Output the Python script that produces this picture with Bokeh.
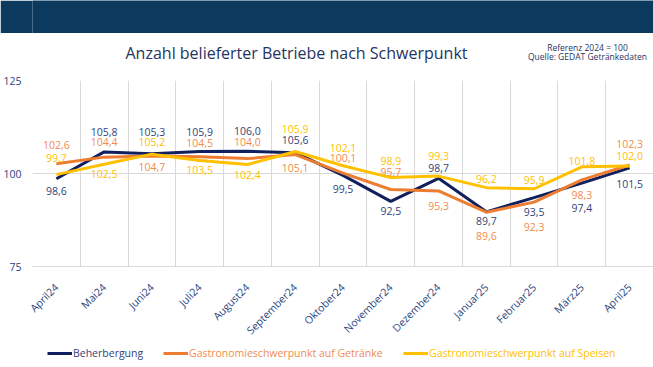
from math import pi
from bokeh.plotting import figure
from bokeh.models import (ColumnDataSource, FixedTicker, Label, Legend, LegendItem, Range1d)
from bokeh.layouts import column
from bokeh.core.properties import value
from bokeh.embed import file_html
from bokeh.resources import INLINE

months = ["April24", "Mai24", "Juni24", "Juli24", "August24", "September24", "Oktober24",
          "November24", "Dezember24", "Januar25", "Februar25", "März25", "April25"]
beherbergung = [98.6, 105.8, 105.3, 105.9, 106.0, 105.6, 99.5, 92.5, 98.7, 89.7, 93.5, 97.4, 101.5]
getraenke = [102.6, 104.4, 104.7, 104.5, 104.0, 105.1, 100.1, 95.7, 95.3, 89.6, 92.3, 98.3, 102.3]
speisen = [99.7, 102.5, 105.2, 103.5, 102.4, 105.9, 102.1, 98.9, 99.3, 96.2, 95.9, 101.8, 102.0]
y_ticks = [75, 100, 125]
series_names = ["Beherbergung", "Gastronomieschwerpunkt auf Getränke",
                "Gastronomieschwerpunkt auf Speisen"]
title_text = "Anzahl belieferter Betriebe nach Schwerpunkt"
note_lines = ["Referenz 2024 = 100", "Quelle: GEDAT Getränkedaten"]

# label placement (pixel offsets, positive = downwards)
off_b = [12, -20, -22, -20, -20, -13, 14, 10, -10, 9, 14, 25, 16]
off_g = [-19, -15, 11, -14, -17, 13, -15, -17, 15, 24, 25, 15, -21]
off_s = [-17, 10, -12, 10, 10, -23, -18, -17, -20, -9, -9, -6, -10]

line_colors = ["#10205e", "#ED7D31", "#FFC000"]
label_colors = ["#33437a", "#F08C50", "#FFC000"]
TEXT_NAVY = "#1f3461"
BAND = "#0b3a5e"
FONT = "Open Sans"
W = 653
LEFT = 32   # left border shared by all stacked figures


def bare(fig, fill="white"):
    fig.outline_line_color = None
    fig.grid.visible = False
    fig.min_border_left = LEFT
    fig.min_border_right = 0
    fig.min_border_top = 0
    fig.min_border_bottom = 0
    fig.border_fill_color = fill
    fig.background_fill_color = fill
    return fig


xs = list(range(len(months)))
series = [beherbergung, getraenke, speisen]

# ---- dark header band ----
band = bare(figure(width=W, height=33, x_range=Range1d(0, 1), y_range=Range1d(0, 1),
                   x_axis_location=None, y_axis_location=None,
                   output_backend="svg", toolbar_location=None), fill=BAND)

# ---- header (title + source note) ----
head = bare(figure(width=W, height=33, x_range=Range1d(0, 1), y_range=Range1d(0, 1),
                   x_axis_location=None, y_axis_location=None,
                   output_backend="svg", toolbar_location=None))
head.add_layout(Label(x=296 - LEFT, y=13.5, x_units="screen", y_units="screen", text=title_text,
                      text_align="center", text_baseline="middle",
                      text_font=FONT, text_font_size="16px", text_color=TEXT_NAVY))
for line, yy in zip(note_lines, [19, 10.5]):
    head.add_layout(Label(x=587 - LEFT, y=yy, x_units="screen", y_units="screen", text=line,
                          text_align="center", text_baseline="middle",
                          text_font=FONT, text_font_size="8.5px", text_color=TEXT_NAVY))

# ---- main chart ----
p = figure(width=W, height=279, x_range=Range1d(-0.5, len(months) - 0.5),
           y_range=Range1d(y_ticks[0], y_ticks[-1]),
           output_backend="svg", toolbar_location=None,
           min_border_left=LEFT, min_border_right=0, min_border_top=14, min_border_bottom=77)
p.outline_line_color = None

p.xaxis.ticker = FixedTicker(ticks=xs)
p.xaxis.major_label_overrides = {i: m for i, m in enumerate(months)}
p.xaxis.major_label_orientation = pi / 4
p.xaxis.axis_line_color = "#d9d9d9"
p.xaxis.major_tick_line_color = None
p.xaxis.minor_tick_line_color = None
p.xaxis.major_tick_out = 0
p.xaxis.major_label_standoff = 19
p.xgrid.ticker = FixedTicker(ticks=[i - 0.5 for i in range(len(months) + 1)])
p.xgrid.grid_line_color = "#d9d9d9"

p.yaxis.ticker = FixedTicker(ticks=y_ticks)
p.yaxis.axis_line_color = None
p.yaxis.major_tick_line_color = None
p.yaxis.minor_tick_line_color = None
p.yaxis.major_tick_out = 0
p.yaxis.major_label_standoff = 11
p.ygrid.grid_line_color = "#d9d9d9"

for ax in (p.xaxis, p.yaxis):
    ax.major_label_text_font = FONT
    ax.major_label_text_font_size = "10.5px"
    ax.major_label_text_color = "#2a4580"

for vals, offs, lc, tc in zip(series, [off_b, off_g, off_s], line_colors, label_colors):
    src = ColumnDataSource(dict(x=xs, y=vals, off=offs,
                                txt=[f"{v:.1f}".replace(".", ",") for v in vals]))
    p.line("x", "y", source=src, line_width=3, line_color=lc)
    p.text("x", "y", text="txt", source=src, y_offset="off",
           text_align="center", text_baseline="middle",
           text_font=value(FONT), text_font_size="10.5px", text_color=tc)

# ---- legend strip (series lines fall outside this strip's range; only the legend shows) ----
foot = bare(figure(width=W, height=22, x_range=Range1d(-0.5, len(months) - 0.5),
                   y_range=Range1d(0, 1),
                   x_axis_location=None, y_axis_location=None,
                   output_backend="svg", toolbar_location=None))
leg_x = [47, 163, 403]
for vals, name, lc, tc, lx in zip(series, series_names, line_colors, label_colors, leg_x):
    r = foot.line(x=xs, y=vals, line_width=3, line_color=lc)
    leg = Legend(items=[LegendItem(label=name, renderers=[r])],
                 location=(lx - LEFT, 7), orientation="horizontal",
                 padding=0, margin=0, spacing=0,
                 glyph_width=25, glyph_height=12, label_height=12, label_standoff=1,
                 label_text_font=FONT, label_text_font_size="10.5px",
                 label_text_color=tc, border_line_color=None,
                 background_fill_alpha=0)
    foot.add_layout(leg, "center")

layout = column(band, head, p, foot, spacing=0)

open("out.html", "w").write(file_html(layout, INLINE))
